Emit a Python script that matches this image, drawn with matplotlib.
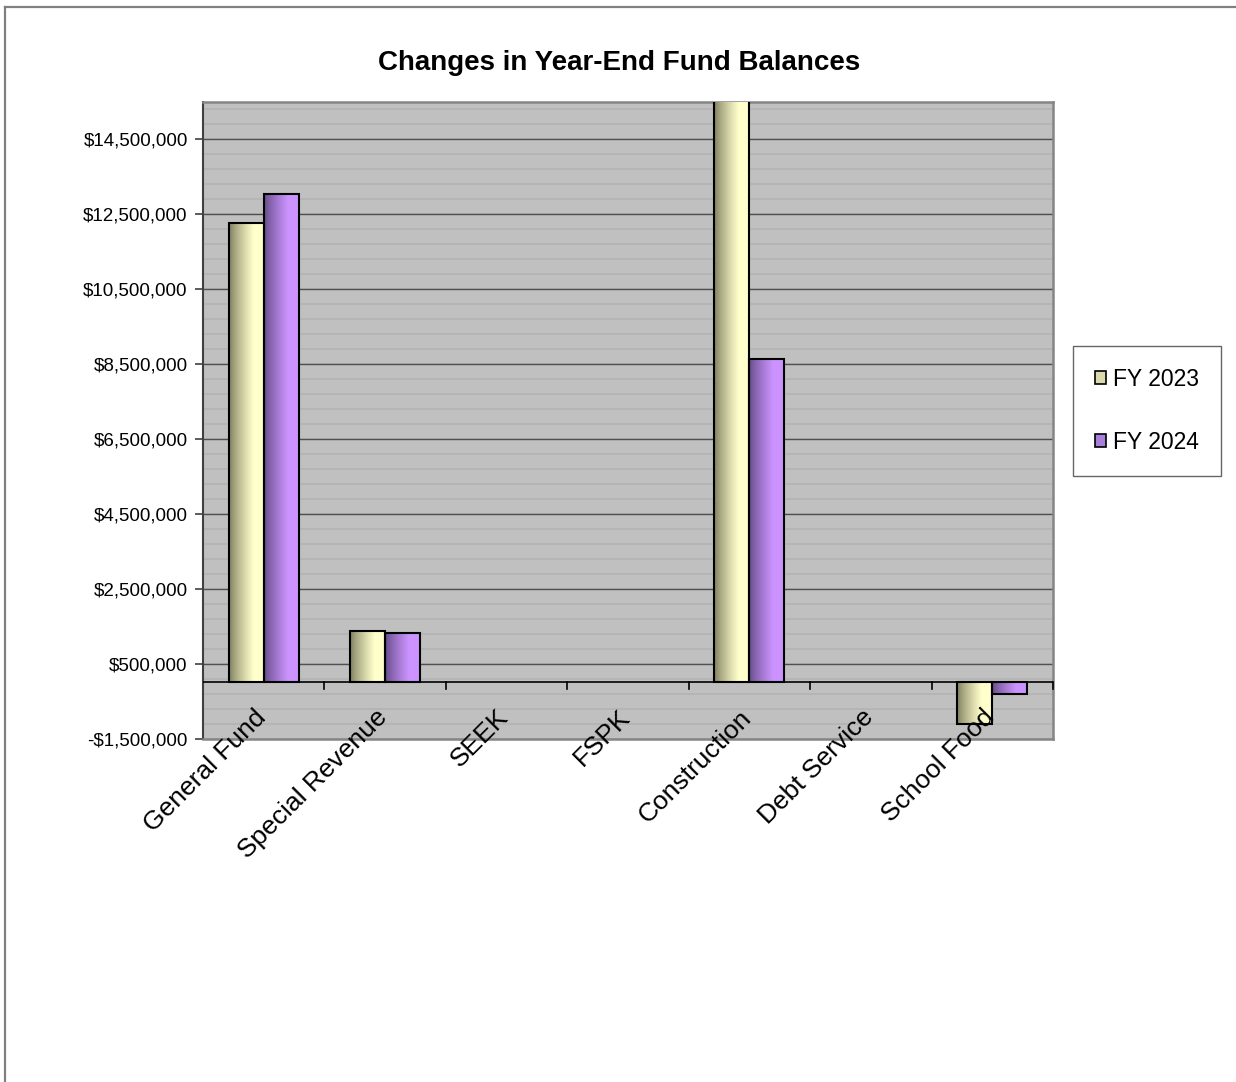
import matplotlib
matplotlib.use("Agg")
import matplotlib.pyplot as plt
from matplotlib.patches import Patch
from matplotlib.lines import Line2D
from matplotlib.ticker import FixedLocator, FuncFormatter
import matplotlib.transforms as mtransforms
import numpy as np

plt.rcParams['font.family'] = ['Liberation Sans', 'DejaVu Sans']

# data
categories = ['General Fund', 'Special Revenue', 'SEEK', 'FSPK',
              'Construction', 'Debt Service', 'School Food']
fy2023 = [12280000, 1360000, 0, 0, 16200000, 0, -1100000]
fy2024 = [13030000, 1320000, 0, 0, 8630000, 0, -300000]
series_names = ['FY 2023', 'FY 2024']
y_ticks = [-1500000, 500000, 2500000, 4500000, 6500000, 8500000,
           10500000, 12500000, 14500000]
y_min, y_max = -1500000, 15500000
minor_step = 400000

# gradient end colours (dark left edge -> light right edge)
grad_colors = [((0.48, 0.48, 0.36), (1.0, 1.0, 0.80)),
               ((0.38, 0.29, 0.52), (0.80, 0.58, 1.0))]

W, H = 1236, 1082
fig = plt.figure(figsize=(W / 100, H / 100), dpi=100)
ax = fig.add_axes([203 / W, 1 - 738.5 / H, 850 / W, (738.5 - 102) / H])

ax.set_facecolor('#C0C0C0')
x = np.arange(len(categories))
bw = 0.288

def gradient_img(c0, c1):
    t = np.linspace(0, 1, 256)
    f = np.clip(t / 0.7, 0, 1) ** 0.8
    img = np.zeros((2, 256, 3))
    for k in range(3):
        img[:, :, k] = c0[k] + (c1[k] - c0[k]) * f
    return img

for s, vals in enumerate([fy2023, fy2024]):
    rects = ax.bar(x + (s - 0.5) * bw, vals, bw, facecolor='none',
                   edgecolor='black', linewidth=1.5, zorder=4)
    img = gradient_img(*grad_colors[s])
    for r in rects:
        h = r.get_height()
        if h == 0:
            r.set_visible(False)
            continue
        x0 = r.get_x()
        y0 = r.get_y()
        lo = max(min(y0, y0 + h), y_min)
        hi = min(max(y0, y0 + h), y_max)
        ax.imshow(img, extent=[x0, x0 + r.get_width(), lo, hi],
                  aspect='auto', zorder=3, interpolation='bilinear')

ax.set_xlim(-0.5, len(categories) - 0.5)
ax.set_ylim(y_min, y_max)

# grid lines
for yv in np.arange(y_min, y_max + 1, minor_step):
    ax.axhline(yv, color='#B3B3B3', linewidth=1.2, zorder=1)
for yv in y_ticks[1:]:
    ax.axhline(yv, color='#505050', linewidth=1.0, zorder=2)

# category axis at zero
ax.axhline(0, color='black', linewidth=1.2, zorder=5)
tick_len = 180000
for b in np.arange(-0.5, len(categories), 1.0)[1:]:
    ax.plot([b, b], [0, -tick_len], color='black', linewidth=1.2, zorder=5, clip_on=False)

ax.set_xticks([])
ax.yaxis.set_major_locator(FixedLocator(y_ticks))
ax.yaxis.set_major_formatter(FuncFormatter(
    lambda v, p: ('-$' if v < 0 else '$') + '{:,.0f}'.format(abs(v))))
ax.tick_params(axis='y', direction='out', length=6, width=1.2, color='#404040',
               labelsize=13.5, pad=5)

for side in ['top', 'right', 'bottom']:
    ax.spines[side].set_color('#858585')
    ax.spines[side].set_linewidth(1.8)
ax.spines['left'].set_color('#404040')
ax.spines['left'].set_linewidth(1.5)

# rotated category labels sitting under the zero line
for i, name in enumerate(categories):
    tr = mtransforms.offset_copy(ax.transData, fig=fig, x=-10, y=-23, units='dots')
    ax.text(i, 0, name, transform=tr, rotation=45, rotation_mode='anchor',
            ha='right', va='top', fontsize=19, zorder=10, clip_on=False)

fig.text(619 / W, 1 - 63 / H, 'Changes in Year-End Fund Balances',
         ha='center', va='center', fontsize=20, fontweight='bold')

handles = [Patch(facecolor=(0.85, 0.85, 0.68), edgecolor='black', linewidth=1.2),
           Patch(facecolor=(0.66, 0.50, 0.86), edgecolor='black', linewidth=1.2)]
leg = fig.legend(handles, series_names, loc='center left',
                 bbox_to_anchor=(1073 / W, 1 - 411 / H), fontsize=16.5,
                 frameon=True, fancybox=False, edgecolor='#404040',
                 handlelength=0.5, handleheight=0.5, handletextpad=0.3,
                 labelspacing=1.75, borderpad=0.95, borderaxespad=0)
leg.get_frame().set_linewidth(1.0)

# outer chart border (top and left only visible)
fig.add_artist(Line2D([5 / W, 5 / W], [0, 1 - 7 / H], transform=fig.transFigure,
                      color='#808080', linewidth=1.6))
fig.add_artist(Line2D([5 / W, 1], [1 - 7 / H, 1 - 7 / H], transform=fig.transFigure,
                      color='#808080', linewidth=1.6))

fig.savefig('out.png', dpi=100, facecolor='white')
